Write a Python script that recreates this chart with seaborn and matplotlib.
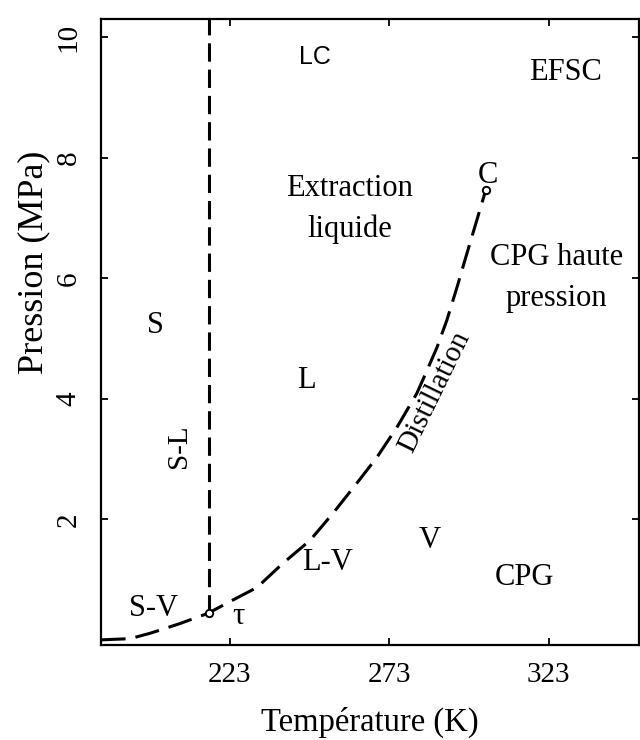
import matplotlib
matplotlib.use("Agg")
import matplotlib.pyplot as plt
import seaborn as sns
import numpy as np
import pandas as pd

# ---- data ----
T_curve = [182.6, 191.7, 198.0, 207.3, 216.1, 223.9, 231.5, 239.6, 248.1, 255.3,
           262.8, 269.1, 275.4, 281.6, 284.8, 287.9, 291.0, 294.2, 297.3, 300.4, 303.2]
P_curve = [0.0, 0.02, 0.11, 0.27, 0.44, 0.66, 0.87, 1.27, 1.65, 2.10,
           2.60, 3.03, 3.53, 4.09, 4.47, 4.85, 5.30, 5.85, 6.41, 6.96, 7.46]

T_fusion = [216.3, 216.3]
P_fusion = [0.45, 10.3]

T_points = [216.3, 303.2]   # triple point, critical point
P_points = [0.45, 7.46]

x_ticks = [223, 273, 323]
y_ticks = [2, 4, 6, 8, 10]

region_labels = ["LC", "EFSC", "Extraction\nliquide", "C", "CPG haute\npression",
                 "S", "L", "V", "L-V", "CPG", "S-V", "τ"]
region_T = [249.6, 328.3, 260.6, 304.0, 325.5, 199.5, 247.1, 285.7, 253.7, 315.5, 199.2, 225.8]
region_P = [9.67, 9.42, 7.15, 7.71, 6.0, 5.22, 4.31, 1.65, 1.29, 1.04, 0.52, 0.38]

rot_labels = ["Distillation", "S-L"]
rot_T = [287.3, 207.0]
rot_P = [4.11, 3.21]
rot_angle = [64, 90]

# ---- style ----
sns.set_theme(style="ticks")
plt.rcParams['font.family'] = ['Liberation Serif', 'DejaVu Serif']
plt.rcParams['axes.edgecolor'] = 'black'
plt.rcParams['text.color'] = 'black'
plt.rcParams['axes.labelcolor'] = 'black'
plt.rcParams['xtick.color'] = 'black'
plt.rcParams['ytick.color'] = 'black'

fig = plt.figure(figsize=(6.4, 7.4), dpi=100)
ax = fig.add_axes([0.158, 0.128, 0.840, 0.846])

curve = pd.DataFrame({"T": T_curve, "P": P_curve})
sns.lineplot(data=curve, x="T", y="P", sort=False, ax=ax, color="black",
             linewidth=2.2, estimator=None)
ax.lines[-1].set_dashes((8, 3.3))

fus = pd.DataFrame({"T": T_fusion, "P": P_fusion})
sns.lineplot(data=fus, x="T", y="P", sort=False, ax=ax, color="black",
             linewidth=2.2, estimator=None)
ax.lines[-1].set_dashes((6, 2.6))

pts = pd.DataFrame({"T": T_points, "P": P_points})
sns.scatterplot(data=pts, x="T", y="P", ax=ax, s=28, marker="o",
                facecolor="white", edgecolor="black", linewidth=1.4, zorder=5)

for lab, t, p in zip(region_labels, region_T, region_P):
    if lab == "LC":
        ax.text(t, p, lab, ha="center", va="center", fontsize=18,
                family=["Liberation Sans", "DejaVu Sans"])
    else:
        ax.text(t, p, lab, ha="center", va="center", fontsize=22,
                linespacing=1.55)

for lab, t, p, a in zip(rot_labels, rot_T, rot_P, rot_angle):
    ax.text(t, p, lab, ha="center", va="center", fontsize=21, rotation=a,
            rotation_mode="anchor")

ax.set_xlim(182.6, 351.2)
ax.set_ylim(-0.09, 10.3)
ax.set_xticks(x_ticks)
ax.set_xticklabels([str(v) for v in x_ticks])
ax.set_yticks(y_ticks)
ax.set_yticklabels([str(v) for v in y_ticks], rotation=90, va="center")

ax.tick_params(direction="in", length=5, width=1.3, colors="black",
               labelsize=21, top=True, right=True, pad=14)
ax.tick_params(axis="x", pad=12)
for s in ax.spines.values():
    s.set_visible(True)
    s.set_linewidth(1.6)
    s.set_color("black")

ax.set_xlabel("Température (K)", fontsize=23.5)
ax.set_ylabel("Pression (MPa)", fontsize=26)
ax.xaxis.set_label_coords(0.5, -0.123)
ax.yaxis.set_label_coords(-0.126, 0.612)
ax.xaxis.label.set_va("center")
ax.yaxis.label.set_va("center")

fig.savefig("out.png", dpi=100, facecolor="white")
